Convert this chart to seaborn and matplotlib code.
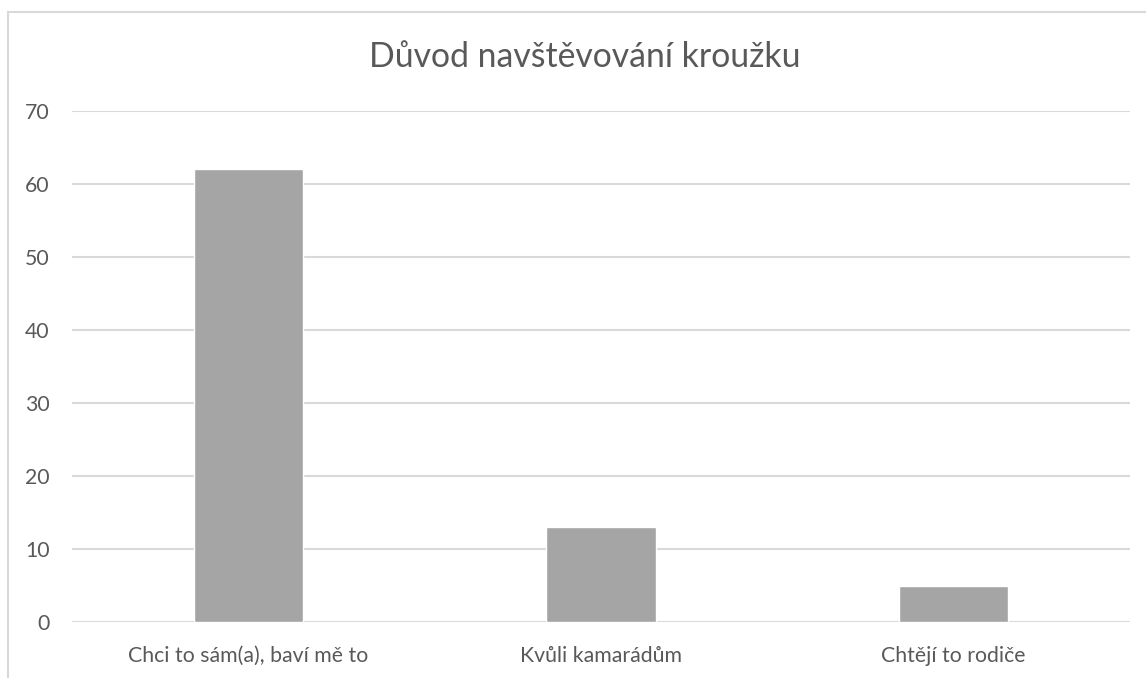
import matplotlib.pyplot as plt
import pandas as pd
import seaborn as sns
from matplotlib.patches import Rectangle

# Data
categories = ['Chci to sám(a), baví mě to', 'Kvůli kamarádům', 'Chtějí to rodiče']
counts = [62, 13, 5]
y_ticks = [0, 10, 20, 30, 40, 50, 60, 70]

df = pd.DataFrame({'reason': categories, 'count': counts})

sns.set_style('white')
plt.rcParams['font.family'] = ['Lato', 'DejaVu Sans']

fig = plt.figure(figsize=(11.46, 6.78), dpi=100)
# chart frame (cropped at right and bottom like the original)
fig.patches.append(Rectangle((8 / 1146, -0.1), 1.2, 1.1 - 12 / 678,
                             transform=fig.transFigure, fill=False,
                             edgecolor='#D9D9D9', linewidth=1.5))

ax = fig.add_axes([72 / 1146, 1 - 622 / 678, (1130 - 72) / 1146, (622 - 111) / 678])
sns.barplot(data=df, x='reason', y='count', color='#A5A5A5', saturation=1,
            width=0.31, ax=ax)

ax.set_ylim(0, 70)
ax.set_xlim(-0.5, 2.5)
ax.set_yticks(y_ticks)
ax.yaxis.grid(True, color='#D9D9D9', linewidth=1.5)
ax.set_axisbelow(True)
for s in ax.spines.values():
    s.set_visible(False)
ax.tick_params(axis='both', length=0, labelsize=15.3, colors='#595959')
ax.tick_params(axis='y', pad=16)
ax.tick_params(axis='x', pad=17)
ax.set_xlabel('')
ax.set_ylabel('')

fig.text(585 / 1146, 1 - 57 / 678, 'Důvod navštěvování kroužku', ha='center',
         va='center', fontsize=24.3, color='#595959')

fig.savefig('out.png', dpi=100)
